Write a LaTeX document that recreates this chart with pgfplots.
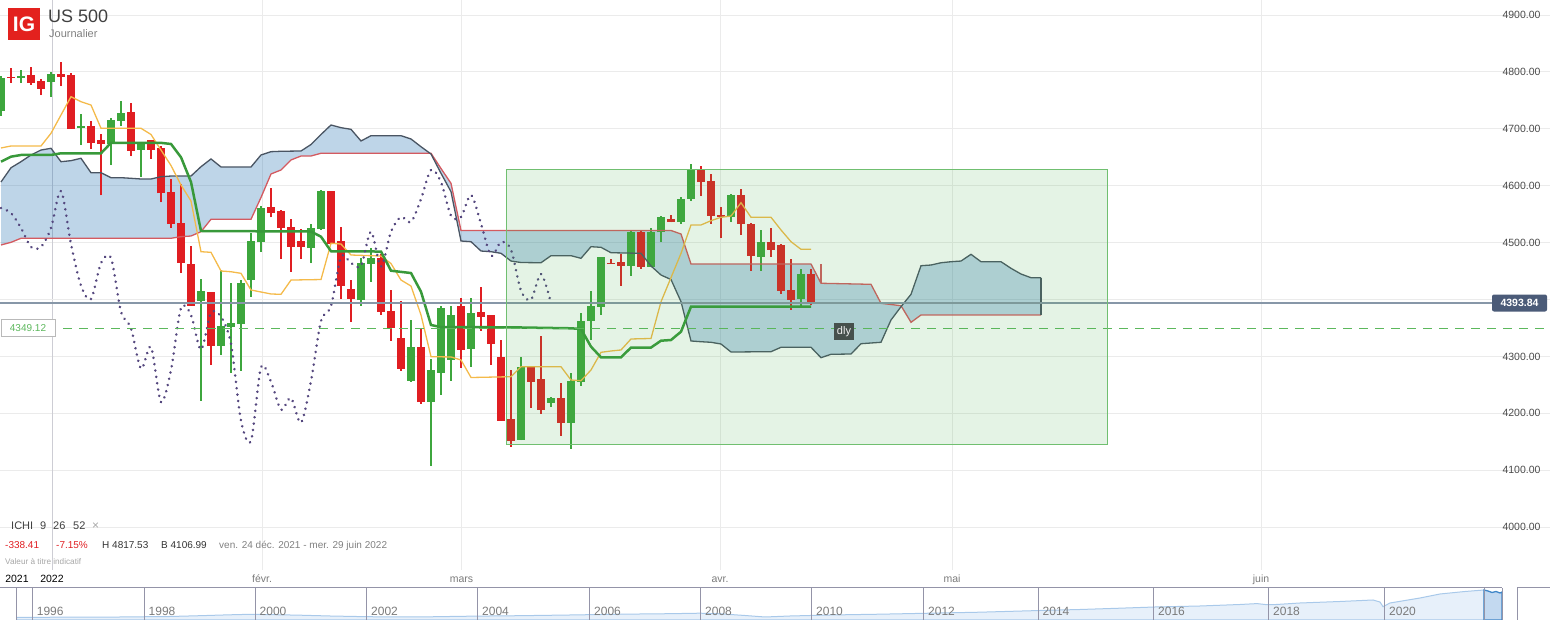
\documentclass[border=0pt]{standalone}
\usepackage{fontspec}
\setmainfont{Liberation Sans}
\usepackage{pgfplots}
\pgfplotsset{compat=1.18}
\usepackage{pgfplotstable}
\usepgfplotslibrary{fillbetween}

\newcommand\fs[1]{\fontsize{#1}{#1}\selectfont}

\definecolor{cred}{HTML}{E01E22}
\definecolor{cgreen}{HTML}{3DA63D}
\definecolor{tenkan}{HTML}{F4BA4A}
\definecolor{kijun}{HTML}{38993A}
\definecolor{spana}{HTML}{4A5563}
\definecolor{spanb}{HTML}{D45A60}
\definecolor{cloud}{RGB}{31,110,176}
\definecolor{chikou}{HTML}{54477E}
\definecolor{gridc}{HTML}{EBEBEB}
\definecolor{yeargrid}{HTML}{CDCDD4}
\definecolor{ticktext}{HTML}{4A4A4A}
\definecolor{monthtext}{HTML}{7A7A7A}
\definecolor{pricegray}{HTML}{8797A8}
\definecolor{pricebox}{HTML}{4B5B78}
\definecolor{dashgreen}{HTML}{5CB85C}
\definecolor{rectgreen}{RGB}{76,175,80}
\definecolor{rectedge}{HTML}{70BF70}
\definecolor{igred}{HTML}{E3211E}
\definecolor{navfill}{HTML}{E7F0FA}
\definecolor{navline}{HTML}{A9C9EA}
\definecolor{navhi}{HTML}{C3D9F0}
\definecolor{navhiline}{HTML}{3F86C8}
\definecolor{navframe}{HTML}{9494A8}
\definecolor{dlybox}{HTML}{46504C}

\pgfplotsset{
  candle/.style 2 args={only marks, mark=*, mark size=0pt,
    mark options={draw=none, fill=none},
    error bars/.cd, y dir=plus, y explicit, error mark=none,
    error bar style={line width=#2, draw=#1}},
}

% daily candles, k = trading day index
\pgfplotstableread{
k o h l c
0 4732 4793 4723 4790
2 4790 4804 4781 4793
5 4782.8 4800.4 4756.4 4796.8
8 4701 4726 4671.5 4705
11 4673.5 4718.5 4636 4715.5
12 4714.3 4749.4 4705 4727.7
14 4663.3 4675 4615.8 4674.5
20 4397.9 4436 4222.1 4414.9
22 4318.8 4451.8 4302.4 4353.4
23 4352.3 4429 4271.3 4358.7
24 4357.5 4433.7 4274.8 4429
25 4434.2 4516.3 4405 4502.8
26 4501 4564.8 4484 4560.8
31 4490.5 4532.7 4464.1 4525.7
32 4523.9 4592.4 4523 4590.7
36 4399.1 4472.9 4389.1 4464.1
37 4462.4 4490.5 4431.3 4472.9
41 4257.3 4364 4255.5 4316.5
43 4219.8 4295.4 4106.99 4276.1
44 4271.3 4389.1 4232.7 4385.0
45 4294.2 4389.1 4257.3 4372.8
47 4313.5 4402.6 4281.9 4376.3
52 4153.6 4298.4 4153 4280.8
55 4218.6 4228.6 4211.6 4226.9
57 4183.5 4270.3 4137.8 4256.7
58 4255.5 4376.3 4248.5 4362.2
59 4362.2 4415 4329.3 4388.6
60 4387.4 4475 4373 4474.7
63 4459.4 4522.2 4441.8 4519.2
65 4457.6 4525.7 4457 4519.2
66 4518.1 4546.7 4501.6 4545
68 4536.2 4580.1 4532.7 4576.6
69 4576.6 4638.1 4573.1 4627.6
73 4545 4585.4 4536.2 4583.6
76 4475.2 4522.1 4450.6 4501
80 4401.4 4453.6 4389.1 4444.8
}\upcandles

\pgfplotstableread{
k o h l c
1 4791 4806 4781 4789
3 4794.5 4808.6 4777 4781
4 4784 4787.5 4759 4770
6 4796.3 4817.53 4775 4791
7 4794.5 4798.6 4700 4700.2
9 4705 4714 4665 4675
10 4680.3 4690.4 4583 4673.3
13 4729.5 4745 4652 4661.5
15 4679.8 4681 4647 4663.3
16 4666.8 4670.3 4570.8 4586.6
17 4589.5 4611.8 4526.2 4533.2
18 4534.5 4602.5 4447.1 4464.7
19 4462.4 4494 4389 4389.1
21 4413.2 4414 4285.4 4318.8
27 4562.6 4596.5 4544.4 4552
28 4555.5 4557.3 4471.2 4525.7
29 4527.4 4541.5 4448.8 4492.3
30 4502.8 4523.9 4471.2 4492.3
33 4590.7 4591 4497 4497.5
34 4502.8 4527.4 4400.9 4424.2
35 4418.4 4434.2 4361 4400.9
38 4472.9 4480 4372.8 4378.6
39 4379.8 4416.7 4327.6 4349.4
40 4332.3 4397.3 4274.8 4278.4
42 4316.5 4348.1 4216.9 4219.8
46 4389.1 4402.6 4280 4311.8
48 4378 4422 4345 4369.8
49 4372.8 4373 4285.4 4322.3
50 4299 4328.8 4186.5 4187
51 4190 4276.1 4141.3 4151.8
53 4280.8 4281 4209.8 4255.5
54 4260.3 4335.8 4199.3 4206.3
56 4226.9 4253.2 4160.6 4183.5
61 4465 4471 4464 4464.2
62 4466 4480 4424 4459
64 4519.2 4522.2 4454.1 4457.6
67 4541.5 4548.5 4536 4536.2
70 4627.6 4634.6 4581.9 4606.5
71 4608.2 4620.6 4533.2 4547.3
72 4548.5 4562.6 4508.1 4545
74 4583.6 4594.2 4513.9 4533.2
75 4532.7 4534.4 4450.6 4477
77 4501 4525.7 4475.2 4487.5
78 4495.8 4497.5 4410.2 4415.5
79 4416.7 4471.2 4382 4399.6
81 4444.8 4453.6 4390 4393.84
}\downcandles

% leading span (dark edge)
\pgfplotstableread{
k p
0 4606.5
1 4631.6
2 4642.2
3 4654.0
4 4662.7
5 4665.7
6 4642.2
7 4644.0
8 4648.2
9 4622.8
10 4622.8
11 4614.1
12 4614.1
13 4613.0
14 4611.8
15 4611.8
16 4615.8
17 4617.0
18 4617.0
19 4617.0
20 4633.4
21 4647.0
22 4632.9
25 4632.9
26 4654.0
27 4659.8
28 4660.5
30 4661.0
31 4672.4
32 4690.0
33 4706.7
34 4702.0
35 4699.1
36 4678.6
37 4687.9
40 4687.9
41 4682.1
42 4668.5
43 4655.7
44 4621.8
45 4589.5
46 4502.8
47 4501.6
48 4485.2
49 4484.0
50 4481.2
51 4467.6
52 4465.0
54 4464.6
55 4477.0
57 4477.0
58 4472.4
59 4492.8
60 4491.7
61 4482.2
64 4481.2
65 4458.9
66 4443.0
67 4435.1
68 4396.2
69 4327.1
70 4325.8
71 4324.8
72 4321.8
73 4307.7
77 4308.3
78 4316.0
81 4316.0
82 4297.7
83 4303.7
85 4304.2
86 4322.3
88 4324.8
89 4364.0
90 4387.4
91 4409.1
92 4459.4
93 4460.6
94 4464.6
95 4466.4
96 4467.6
97 4479.4
98 4466.4
100 4466.4
101 4454.8
102 4444.8
103 4438.3
104 4438.3
}\spanA

% leading span (red edge)
\pgfplotstableread{
k p
0 4495.8
1 4500.5
2 4507.6
17 4507.6
18 4510.4
19 4511.6
20 4519.2
21 4541.0
25 4541.0
26 4579.3
27 4620.6
28 4627.6
29 4645.2
30 4652.2
31 4652.2
32 4657.0
43 4657.0
44 4630.2
45 4604.2
46 4521.3
67 4521.3
68 4515.1
69 4462.4
81 4462.4
82 4428.5
87 4426.7
88 4393.3
89 4391.2
90 4389.1
91 4359.9
92 4372.8
104 4372.8
}\spanB

\pgfplotstableread{
k p
0 4666.3
1 4669.8
4 4669.8
5 4692.1
7 4756.4
8 4747.6
9 4741.8
10 4700.9
14 4700.9
15 4690.0
16 4662.7
17 4635.5
18 4601.2
19 4573.1
20 4484.0
21 4482.9
22 4450.1
23 4448.8
24 4446.0
25 4416.7
26 4413.2
27 4409.7
28 4409.1
29 4434.2
32 4435.1
33 4498.8
34 4497.5
35 4478.2
38 4476.4
39 4463.2
40 4434.2
41 4423.7
42 4372.8
43 4299.5
45 4299.0
46 4293.7
47 4262.9
51 4264.3
52 4281.9
56 4281.9
57 4258.5
58 4257.3
59 4276.1
60 4307.2
61 4309.5
62 4311.3
63 4330.6
65 4331.5
66 4396.0
67 4438.5
68 4481.0
69 4531.0
70 4531.0
71 4538.5
72 4544.5
73 4546.7
74 4570.1
75 4544.5
77 4544.5
78 4522.2
79 4501.6
80 4488.2
81 4488.2
}\tenkansen

\pgfplotstableread{
k p
0 4642.2
1 4651.0
2 4654.0
5 4654.0
6 4657.0
10 4657.0
11 4675.3
16 4675.3
17 4673.3
18 4650.0
19 4606.5
20 4520.4
31 4519.5
32 4510.4
33 4484.8
38 4484.3
39 4450.6
41 4446.5
42 4413.7
43 4355.2
44 4351.5
51 4351.1
57 4349.4
58 4348.1
59 4317.1
60 4298.4
62 4298.4
63 4315.5
65 4315.6
66 4327.6
67 4328.8
68 4343.4
69 4387.4
81 4387.4
}\kijunsen

\pgfplotstableread{
k p
0 4560.8
1 4552.0
2 4525.7
3 4492.3
4 4492.3
5 4525.7
6 4590.7
7 4497.5
8 4424.2
9 4400.9
10 4464.1
11 4472.9
12 4378.6
13 4349.4
14 4278.4
15 4316.5
16 4219.8
17 4276.1
18 4385.0
19 4372.8
20 4311.8
21 4376.3
22 4369.8
23 4322.3
24 4187.0
25 4151.8
26 4280.8
27 4255.5
28 4206.3
29 4226.9
30 4183.5
31 4256.7
32 4362.2
33 4388.6
34 4474.7
35 4464.2
36 4459.0
37 4519.2
38 4457.6
39 4519.2
40 4545.0
41 4536.2
42 4576.6
43 4627.6
44 4606.5
45 4547.3
46 4545.0
47 4583.6
48 4533.2
49 4477.0
50 4501.0
51 4487.5
52 4415.5
53 4399.6
54 4444.8
55 4393.84
}\chikouspan

% navigator overview (x in px of the strip, h = height of the area)
\pgfplotstableread{
x h
16.7 2.5
33 2.7
70 2.8
100 2.8
140 3.2
170 3.5
200 4.3
230 5.2
250 5.7
275 5.3
300 4.8
330 4.0
367 3.3
400 3.0
430 3.2
470 3.8
520 4.3
570 5.0
620 5.8
670 6.3
700 6.8
720 6.2
745 4.5
765 3.0
790 4.0
830 5.0
880 5.8
930 6.8
980 7.8
1040 9.5
1080 10.5
1120 11.8
1155 13.0
1200 14.0
1240 15.5
1257 16.4
1265 15.5
1273 15.3
1300 17.0
1340 18.5
1373 20.0
1380 18.0
1383 13.3
1390 17.0
1420 22.0
1440 26.0
1465 28.5
1484 30.0
}\navall

\pgfplotstableread{
x h
1484 30.0
1488 29.0
1492 27.5
1496 28.5
1500 27.0
1502 28.0
}\navhigh

\begin{document}
\begin{tikzpicture}[x=1pt,y=1pt]

\begin{axis}[
  at={(0pt,50pt)}, anchor=south west,
  width=1550pt, height=570pt, scale only axis,
  xmin=-0.1, xmax=154.9, ymin=3924.6, ymax=4926.4,
  axis line style={draw=none},
  major tick length=0pt,
  ytick={4000,4100,4200,4300,4500,4600,4700,4800,4900},
  extra y ticks={4400},
  extra y tick labels={},
  yticklabel pos=right,
  yticklabel={\pgfmathprintnumber[fixed,fixed zerofill,precision=2,1000 sep={},assume math mode=true]{\tick}},
  yticklabel style={anchor=east, xshift=-6pt, font=\fs{10.5}, text=ticktext},
  xtick={26.1,46.05,71.9,95.1,126},
  xticklabels={févr.,mars,avr.,mai,juin},
  xticklabel style={anchor=base, yshift=-12.5pt, font=\fs{10.5}, text=monthtext},
  extra x ticks={5.1},
  extra x tick labels={2022},
  extra x tick style={grid style={yeargrid, line width=1pt}, xticklabel style={text=black}},
  xmajorgrids, ymajorgrids,
  grid style={gridc, line width=1pt},
]

% candles: wicks then bodies
\addplot[candle={cgreen}{1.3pt}]
  table[x=k, y=l, y error expr=\thisrow{h}-\thisrow{l}] {\upcandles};
\addplot[candle={cgreen}{7.6pt}]
  table[x=k, y expr={min(\thisrow{o},\thisrow{c})}, y error expr={abs(\thisrow{c}-\thisrow{o})}] {\upcandles};
\addplot[candle={cred}{1.3pt}]
  table[x=k, y=l, y error expr=\thisrow{h}-\thisrow{l}] {\downcandles};
\addplot[candle={cred}{7.6pt}]
  table[x=k, y expr={min(\thisrow{o},\thisrow{c})}, y error expr={abs(\thisrow{c}-\thisrow{o})}] {\downcandles};

% cloud
\addplot[draw=none, name path=sa] table[x=k, y=p] {\spanA};
\addplot[draw=none, name path=sb] table[x=k, y=p] {\spanB};
\addplot[fill=cloud, fill opacity=0.29, draw=none] fill between[of=sa and sb];
\addplot[spanb, line width=1.3pt] table[x=k, y=p] {\spanB};
\addplot[spanb, line width=1.3pt] coordinates {(82,4462.4) (82,4428.5)};
\addplot[spana, line width=1.3pt] table[x=k, y=p] {\spanA};
\addplot[spana, line width=1.3pt] coordinates {(104,4438.3) (104,4372.8)};

% conversion and base lines
\addplot[tenkan, line width=1.3pt] table[x=k, y=p] {\tenkansen};
\addplot[kijun, line width=2.5pt] table[x=k, y=p] {\kijunsen};

% lagging span
\addplot[chikou, line width=2.8pt, line cap=round, dash pattern=on 0.01pt off 6.4pt, smooth, tension=0.5]
  table[x=k, y=p] {\chikouspan};

% last price and level line
\addplot[pricegray, line width=1.2pt] coordinates {(-0.1,4393.84) (149.1,4393.84)};
\addplot[dashgreen, line width=1pt, dash pattern=on 9pt off 7pt] coordinates {(6.2,4349.12) (154.9,4349.12)};

% drawn zone
\addplot[draw=rectedge, line width=1.2pt, fill=rectgreen, fill opacity=0.15]
  coordinates {(50.53,4145.5) (110.67,4145.5) (110.67,4628.8) (50.53,4628.8)} -- cycle;

\node[fill=pricebox, rounded corners=2pt, text=white, font=\fs{10.5}\bfseries,
  minimum width=55pt, minimum height=17pt, inner sep=0pt] at (axis cs:151.85,4393.84) {4393.84};
\node[draw=gray!55, line width=1pt, fill=white, text=dashgreen, font=\fs{10},
  minimum width=54pt, minimum height=17pt, inner sep=0pt] at (axis cs:2.7,4349.12) {4349.12};
\node[fill=dlybox, text=white!88!gray, font=\fs{11},
  minimum width=20pt, minimum height=17pt, inner sep=0pt] at (axis cs:84.3,4343.7) {dly};
\end{axis}

% navigator strip
\begin{axis}[
  at={(0pt,0pt)}, anchor=south west,
  width=1550pt, height=32pt, scale only axis,
  xmin=0, xmax=1550, ymin=0, ymax=32, hide axis,
]
\addplot[fill=navfill, draw=navline, line width=1pt] table[x=x, y=h] {\navall} \closedcycle;
\addplot[fill=navhi, draw=navhiline, line width=1.3pt] table[x=x, y=h] {\navhigh} \closedcycle;
\end{axis}

\draw[navframe, line width=1pt] (0,32) -- (1502,32);
\foreach \sx in {16.7,32.3,144.3,255.5,366.5,477.5,589,700,811,923,1038,1153,1268,1384,1484,1502}
  \draw[navframe, line width=1pt] (\sx,0) -- (\sx,32);
\draw[navframe, line width=1pt] (1517.7,0) -- (1517.7,32) -- (1550,32);
\foreach \lx/\yr in {36.7/1996,148.5/1998,259.5/2000,371/2002,482/2004,594/2006,705/2008,
  816/2010,928/2012,1042.5/2014,1158/2016,1273/2018,1389/2020}
  \node[anchor=base west, inner sep=0pt, font=\fs{12}, text=monthtext] at (\lx,4) {\yr};

% header
\fill[igred] (8,580) rectangle (40,612);
\node[text=white, font=\fs{21}\bfseries, inner sep=0pt] at (24,596) {IG};
\node[anchor=base west, inner sep=0pt, font=\fs{18}, text=black!75] at (48,597) {US 500};
\node[anchor=base west, inner sep=0pt, font=\fs{11}, text=black!50] at (49,582) {Journalier};

% indicator and range info
\node[anchor=base west, inner sep=0pt, font=\fs{11}, text=black!75] at (11,90) {ICHI};
\node[anchor=base west, inner sep=0pt, font=\fs{11}, text=black!75] at (40,90) {9};
\node[anchor=base west, inner sep=0pt, font=\fs{11}, text=black!75] at (53,90) {26};
\node[anchor=base west, inner sep=0pt, font=\fs{11}, text=black!75] at (73,90) {52};
\node[anchor=base west, inner sep=0pt, font=\fs{12}, text=black!35] at (92,90) {×};
\node[anchor=base west, inner sep=0pt, font=\fs{10}, text=cred] at (5,71) {-338.41};
\node[anchor=base west, inner sep=0pt, font=\fs{10}, text=cred] at (56,71) {-7.15\%};
\node[anchor=base west, inner sep=0pt, font=\fs{10}, text=black!80] at (102,71) {H 4817.53};
\node[anchor=base west, inner sep=0pt, font=\fs{10}, text=black!80] at (161,71) {B 4106.99};
\node[anchor=base west, inner sep=0pt, font=\fs{10}, text=black!50] at (219,71) {ven. 24 déc. 2021 - mer. 29 juin 2022};
\node[anchor=base west, inner sep=0pt, font=\fs{8.2}, text=black!35] at (5,55) {Valeur à titre indicatif};
\node[anchor=base, inner sep=0pt, font=\fs{10.5}, text=black] at (17,37.5) {2021};

\pgfresetboundingbox
\path[use as bounding box] (0,0) rectangle (1550,620);
\end{tikzpicture}
\end{document}
